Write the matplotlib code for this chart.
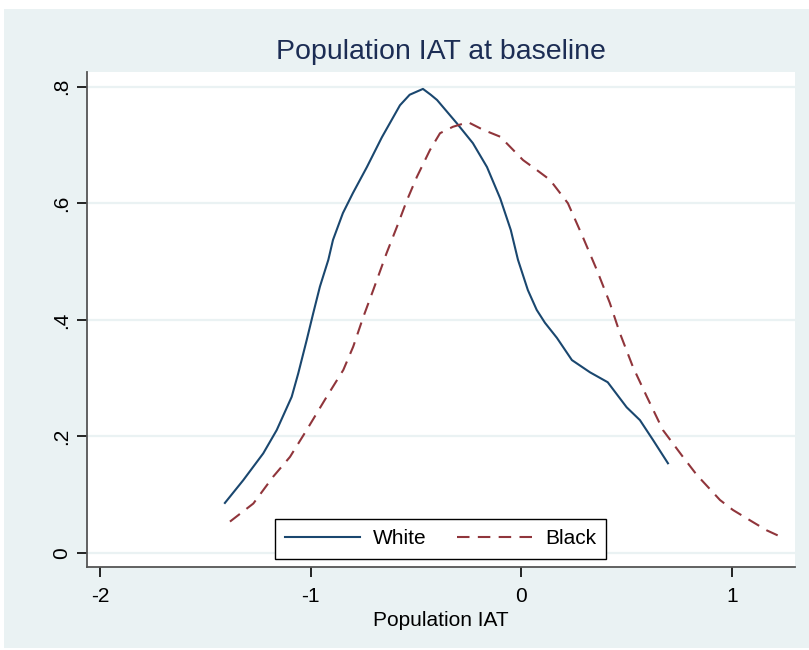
# Kernel density of population IAT at baseline, by race (Stata s2color look)
import matplotlib.pyplot as plt
from matplotlib.patches import Rectangle

# White respondents (solid navy)
white_x = [-1.407, -1.32, -1.225, -1.161, -1.09, -1.059, -1.019, -0.988, -0.956, -0.916,
           -0.894, -0.847, -0.80, -0.733, -0.662, -0.576, -0.53, -0.467, -0.43, -0.40,
           -0.306, -0.23, -0.163, -0.10, -0.05, -0.016, 0.031, 0.073, 0.112, 0.169,
           0.24, 0.326, 0.41, 0.50, 0.563, 0.625, 0.696]
white_y = [0.086, 0.125, 0.171, 0.211, 0.268, 0.308, 0.365, 0.411, 0.457, 0.503,
           0.537, 0.583, 0.617, 0.662, 0.713, 0.768, 0.786, 0.796, 0.786, 0.777,
           0.737, 0.703, 0.662, 0.608, 0.554, 0.503, 0.451, 0.417, 0.395, 0.369,
           0.331, 0.31, 0.293, 0.25, 0.228, 0.194, 0.154]

# Black respondents (dashed maroon)
black_x = [-1.383, -1.272, -1.178, -1.098, -1.019, -0.924, -0.845, -0.798, -0.75, -0.703,
           -0.64, -0.59, -0.543, -0.496, -0.434, -0.386, -0.325, -0.253, -0.182, -0.10,
           -0.054, 0.008, 0.073, 0.136, 0.221, 0.292, 0.359, 0.42, 0.468, 0.53,
           0.596, 0.672, 0.767, 0.833, 0.943, 1.004, 1.10, 1.165, 1.237]
black_y = [0.054, 0.085, 0.131, 0.165, 0.211, 0.268, 0.314, 0.354, 0.405, 0.451,
           0.514, 0.56, 0.605, 0.645, 0.691, 0.72, 0.731, 0.739, 0.726, 0.714,
           0.697, 0.674, 0.657, 0.64, 0.60, 0.542, 0.485, 0.429, 0.377, 0.319,
           0.268, 0.211, 0.165, 0.134, 0.091, 0.074, 0.053, 0.039, 0.027]

x_ticks = [-2, -1, 0, 1]
x_labels = ["-2", "-1", "0", "1"]
y_ticks = [0, 0.2, 0.4, 0.6, 0.8]
y_labels = ["0", ".2", ".4", ".6", ".8"]

plt.rcParams['font.family'] = ['Liberation Sans', 'DejaVu Sans']

W, H = 809, 650
fig = plt.figure(figsize=(W / 100, H / 100), dpi=100, facecolor="white")
# graph region background (behind the axes)
bg = Rectangle((4 / W, 1 - 648 / H), 1, (648 - 9) / H, transform=fig.transFigure,
               facecolor="#eaf2f3", edgecolor="none", zorder=-10)
fig.add_artist(bg)

ax = fig.add_axes([86.7 / W, 1 - 566.5 / H, (795 - 86.7) / W, (566.5 - 72) / H])
ax.set_zorder(1)
ax.set_facecolor("white")

ax.plot(white_x, white_y, color="#1a476f", lw=1.5, label="White", zorder=3)
ax.plot(black_x, black_y, color="#90353b", lw=1.5, dashes=(6, 4), label="Black", zorder=3)

ax.set_xlim(-2.063, 1.299)
ax.set_ylim(-0.023, 0.825)
ax.set_xticks(x_ticks, x_labels)
ax.set_yticks(y_ticks, y_labels)
ax.tick_params(axis="y", labelrotation=90, length=7, width=1.2, pad=4, labelsize=15)
ax.tick_params(axis="x", length=7, width=1.2, pad=8, labelsize=15)
for lab in ax.get_yticklabels():
    lab.set_va("center")

ax.grid(axis="y", color="#eaf2f3", lw=1.6, zorder=1)
ax.set_axisbelow(True)
for side in ["top", "right"]:
    ax.spines[side].set_visible(False)
for side in ["left", "bottom"]:
    ax.spines[side].set_color("#555555")
    ax.spines[side].set_linewidth(1.3)

ax.set_xlabel("Population IAT", fontsize=15, labelpad=3)
fig.text(441 / W, 1 - 52 / H, "Population IAT at baseline", ha="center", va="center",
         fontsize=20.5, color="#1c2d54")

leg = ax.legend(loc="center", bbox_to_anchor=(440.5 / W, 1 - 539 / H),
                bbox_transform=fig.transFigure, ncol=2, fontsize=15,
                handlelength=3.6, handletextpad=0.6, columnspacing=1.5,
                fancybox=False, framealpha=1, borderpad=0.5)
leg.get_frame().set_edgecolor("black")
leg.get_frame().set_linewidth(1.0)

fig.savefig("out.png", dpi=100, facecolor=fig.get_facecolor())
